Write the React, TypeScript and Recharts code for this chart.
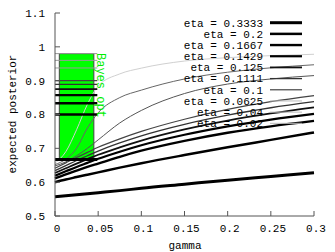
import { ComposedChart, Line, XAxis, YAxis, ReferenceArea, ReferenceLine } from 'recharts';

// gamma sample points (x axis)
const GAMMA = [0, 0.0125, 0.025, 0.0375, 0.05, 0.075, 0.1, 0.15, 0.2, 0.25, 0.3];

// expected posterior per eta
const POST_3333 = [0.557, 0.56, 0.563, 0.566, 0.569, 0.575, 0.582, 0.594, 0.606, 0.617, 0.628];
const POST_2 = [0.6, 0.608, 0.615, 0.622, 0.629, 0.643, 0.656, 0.68, 0.703, 0.725, 0.747];
const POST_1667 = [0.611, 0.623, 0.634, 0.645, 0.655, 0.675, 0.693, 0.722, 0.746, 0.765, 0.781];
const POST_1429 = [0.619, 0.632, 0.645, 0.657, 0.669, 0.69, 0.709, 0.74, 0.765, 0.785, 0.802];
const POST_125 = [0.627, 0.641, 0.655, 0.668, 0.681, 0.703, 0.723, 0.756, 0.782, 0.803, 0.821];
const POST_1111 = [0.634, 0.649, 0.664, 0.678, 0.692, 0.716, 0.737, 0.771, 0.798, 0.82, 0.838];
const POST_1 = [0.641, 0.657, 0.673, 0.688, 0.703, 0.728, 0.75, 0.786, 0.815, 0.838, 0.856];
const POST_0625 = [0.648, 0.66, 0.678, 0.7, 0.725, 0.775, 0.812, 0.862, 0.89, 0.905, 0.915];
const POST_04 = [0.652, 0.668, 0.7, 0.76, 0.805, 0.85, 0.872, 0.905, 0.925, 0.938, 0.947];
const POST_02 = [0.656, 0.69, 0.755, 0.83, 0.884, 0.92, 0.937, 0.958, 0.968, 0.974, 0.978];

const ETA_LABELS = ['0.3333', '0.2', '0.1667', '0.1429', '0.125', '0.1111', '0.1', '0.0625', '0.04', '0.02'];
const ETAS = [0.3333, 0.2, 0.1667, 0.1429, 0.125, 0.1111, 0.1, 0.0625, 0.04, 0.02];
const CURVES = [POST_3333, POST_2, POST_1667, POST_1429, POST_125, POST_1111, POST_1, POST_0625, POST_04, POST_02];

// line style per eta (same order)
const WIDTHS = [3, 2.5, 2.4, 2.2, 1.8, 1.3, 1.2, 1, 1, 1];
const COLORS = ['#000', '#000', '#000', '#000', '#111', '#333', '#444', '#555', '#666', '#d0d0d0'];

// Bayes optimal = 1 - eta, shown as a bar + short level lines
const BAYES_BAR_X = [0.005, 0.045];
const BAYES_LINE_X = [0, 0.049];

const X_TICKS = [0, 0.05, 0.1, 0.15, 0.2, 0.25, 0.3];
const Y_TICKS = [0.5, 0.6, 0.7, 0.8, 0.9, 1, 1.1];

const FONT = "'Liberation Mono', 'DejaVu Sans Mono', monospace";
const AXIS = '#555';

const data = GAMMA.map((g, i) => {
  const row: Record<string, number> = { g };
  CURVES.forEach((c, k) => {
    row['s' + k] = c[i];
  });
  return row;
});

const bayes = ETAS.map(e => 1 - e);

function BottomTick({ x, y, payload }: any) {
  return (
    <g>
      <line x1={x} x2={x} y1={y - 8} y2={y - 13} stroke={AXIS} />
      <text x={x + 2} y={y} dy="0.71em" textAnchor="middle" fontFamily={FONT} fontSize={11} fill="#000">
        {payload.value}
      </text>
    </g>
  );
}

function LeftTick({ x, y, payload }: any) {
  return (
    <g>
      <line x1={x + 8} x2={x + 13} y1={y} y2={y} stroke={AXIS} />
      <text x={x - 2} y={y} dy="0.35em" textAnchor="end" fontFamily={FONT} fontSize={11} fill="#000">
        {payload.value}
      </text>
    </g>
  );
}

function TopTick({ x, y }: any) {
  return <line x1={x} x2={x} y1={y + 8} y2={y + 13} stroke={AXIS} />;
}

function RightTick({ x, y }: any) {
  return <line x1={x - 8} x2={x - 13} y1={y} y2={y} stroke={AXIS} />;
}

export default function App() {
  return (
    <div style={{ position: 'absolute', left: 0, top: 0, width: 335, height: 252 }}>
      <ComposedChart
        width={335}
        height={252}
        data={data}
        margin={{ top: 13, right: 21, bottom: 0, left: 0 }}
      >
        <XAxis
          dataKey="g"
          type="number"
          domain={[0, 0.3]}
          ticks={X_TICKS}
          interval={0}
          height={36}
          stroke={AXIS}
          tickLine={false}
          tick={<BottomTick />}
        />
        <XAxis
          xAxisId="top"
          orientation="top"
          dataKey="g"
          type="number"
          domain={[0, 0.3]}
          ticks={X_TICKS}
          interval={0}
          height={0}
          stroke={AXIS}
          tickLine={false}
          tick={<TopTick />}
        />
        <YAxis
          type="number"
          domain={[0.5, 1.1]}
          ticks={Y_TICKS}
          interval={0}
          width={55}
          stroke={AXIS}
          tickLine={false}
          tick={<LeftTick />}
        />
        <YAxis
          yAxisId="right"
          orientation="right"
          type="number"
          domain={[0.5, 1.1]}
          ticks={Y_TICKS}
          interval={0}
          width={0}
          stroke={AXIS}
          tickLine={false}
          tick={<RightTick />}
        />
        <ReferenceArea
          x1={BAYES_BAR_X[0]}
          x2={BAYES_BAR_X[1]}
          y1={Math.min(...bayes)}
          y2={Math.max(...bayes)}
          fill="#00ff00"
          fillOpacity={1}
          stroke="#444"
          strokeWidth={1}
        />
        {CURVES.map((_, k) => (
          <Line
            key={'l' + k}
            dataKey={'s' + k}
            type="monotone"
            stroke={COLORS[k]}
            strokeWidth={WIDTHS[k]}
            dot={false}
            isAnimationActive={false}
          />
        )).reverse()}
        {bayes.map((v, k) => (
          <ReferenceLine
            key={'b' + k}
            segment={[{ x: BAYES_LINE_X[0], y: v }, { x: BAYES_LINE_X[1], y: v }]}
            stroke={k >= 7 ? '#999' : COLORS[k]}
            strokeWidth={WIDTHS[k]}
          />
        ))}
      </ComposedChart>
      <svg
        width={335}
        height={252}
        style={{ position: 'absolute', left: 0, top: 0, pointerEvents: 'none' }}
      >
        <text
          transform="translate(101,53) rotate(90)"
          dy="0.35em"
          fontFamily={FONT}
          fontSize={12}
          fill="#00ee00"
        >
          Bayes opt
        </text>
        <text
          transform="translate(12.5,114) rotate(-90)"
          dy="0.35em"
          textAnchor="middle"
          fontFamily={FONT}
          fontSize={11}
          fill="#000"
        >
          expected posterior
        </text>
        <text x={185} y={245} dy="0.35em" textAnchor="middle" fontFamily={FONT} fontSize={11} fill="#000">
          gamma
        </text>
        {ETA_LABELS.map((lab, k) => {
          const ry = 22.7 + 11.18 * k;
          return (
            <g key={'lg' + k}>
              <text x={263} y={ry} dy="0.35em" textAnchor="end" fontFamily={FONT} fontSize={11} fill="#000">
                {'eta = ' + lab}
              </text>
              <line x1={270} x2={302} y1={ry} y2={ry} stroke={k >= 7 ? '#bbb' : COLORS[k]} strokeWidth={WIDTHS[k]} />
            </g>
          );
        })}
      </svg>
    </div>
  );
}
